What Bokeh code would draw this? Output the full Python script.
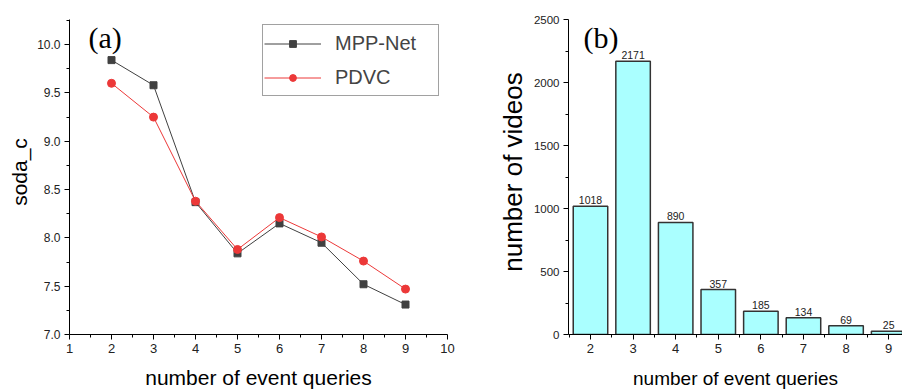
from bokeh.plotting import figure
from bokeh.layouts import row
from bokeh.models import (Range1d, FixedTicker, PrintfTickFormatter, Label, ColumnDataSource)
from bokeh.core.properties import value
from bokeh.embed import file_html
from bokeh.resources import INLINE

# ---- data ----
queries = [2, 3, 4, 5, 6, 7, 8, 9]
mpp_net = [9.84, 9.58, 8.37, 7.84, 8.15, 7.95, 7.52, 7.31]
pdvc = [9.60, 9.25, 8.38, 7.88, 8.21, 8.01, 7.76, 7.47]
video_counts = [1018, 2171, 890, 357, 185, 134, 69, 25]
left_xticks = [1, 2, 3, 4, 5, 6, 7, 8, 9, 10]
left_yticks = [7.0, 7.5, 8.0, 8.5, 9.0, 9.5, 10.0]
right_yticks = [0, 500, 1000, 1500, 2000, 2500]

FONT = "Liberation Sans"
SERIF = "Liberation Serif"
GREY = "#404040"
RED = "#ec3838"


def style_axes(p, xsize, ysize):
    for ax in (p.xaxis[0], p.yaxis[0]):
        ax.axis_line_color = "black"
        ax.axis_line_width = 1
        ax.major_tick_in = 0
        ax.major_tick_out = 5
        ax.minor_tick_in = 0
        ax.minor_tick_out = 3
        ax.major_tick_line_color = "black"
        ax.minor_tick_line_color = "black"
        ax.major_label_text_font = FONT
        ax.major_label_text_color = "#222222"
        ax.axis_label_text_font = FONT
        ax.axis_label_text_font_style = "normal"
        ax.axis_label_text_color = "black"
    p.xaxis[0].axis_label_text_font_size = xsize
    p.yaxis[0].axis_label_text_font_size = ysize
    p.xgrid.visible = False
    p.ygrid.visible = False
    p.outline_line_color = None


# ---- left panel ----
p1 = figure(width=460, height=391, output_backend="svg", toolbar_location=None,
            x_range=Range1d(1, 10), y_range=Range1d(7.0, 10.364),
            min_border_left=69, min_border_right=13, min_border_top=9, min_border_bottom=57)
p1.line(queries, mpp_net, line_color=GREY, line_width=1, legend_label="MPP-Net")
p1.scatter(queries, mpp_net, marker="square", size=7, fill_color=GREY, line_color=GREY,
           legend_label="MPP-Net")
p1.line(queries, pdvc, line_color=RED, line_width=1, legend_label="PDVC")
p1.scatter(queries, pdvc, marker="circle", size=8, fill_color=RED, line_color=RED,
           legend_label="PDVC")
p1.xaxis.ticker = FixedTicker(ticks=left_xticks, minor_ticks=[t + 0.5 for t in left_xticks[:-1]])
p1.yaxis.ticker = FixedTicker(ticks=left_yticks, minor_ticks=[t + 0.25 for t in left_yticks])
p1.yaxis.bounds = (7.0, 10.26)
p1.yaxis.formatter = PrintfTickFormatter(format="%.1f")
p1.xaxis.axis_label = "number of event queries"
p1.yaxis.axis_label = "soda_c"
style_axes(p1, "21px", "21px")
p1.xaxis.major_label_text_font_size = "13px"
p1.yaxis.major_label_text_font_size = "12px"
p1.xaxis.major_label_standoff = 4
p1.yaxis.major_label_standoff = 4
p1.xaxis.axis_label_standoff = 10
p1.yaxis.axis_label_standoff = 3

lg = p1.legend[0]
lg.location = (193, 238)
lg.border_line_color = "#444444"
lg.border_line_width = 1.5
lg.background_fill_alpha = 1
lg.label_text_font = FONT
lg.label_text_font_size = "20px"
lg.glyph_width = 57
lg.glyph_height = 17
lg.label_height = 34
lg.label_width = 102
lg.label_standoff = 14
lg.padding = 1
lg.spacing = 0
lg.margin = 0

p1.add_layout(Label(x=1.452, y=10.075, text="(a)", text_font=SERIF, text_baseline="alphabetic",
                    text_font_size="30px", text_color="black"))

# ---- right panel ----
p2 = figure(width=442, height=391, output_backend="svg", toolbar_location=None,
            x_range=Range1d(1.484, 9.325), y_range=Range1d(0, 2582),
            min_border_left=108, min_border_right=0, min_border_top=9, min_border_bottom=57)
src = ColumnDataSource(dict(x=queries, top=video_counts, lab=[str(v) for v in video_counts]))
p2.vbar(x="x", top="top", bottom=0, width=0.81, source=src,
        fill_color="#aaffff", line_color="#333333", line_width=1.5)
p2.text(x="x", y="top", text="lab", source=src, text_align="center", text_baseline="bottom",
        y_offset=-2, text_font=value(FONT), text_font_size="10.5px", text_color="#222222")
p2.xaxis.ticker = FixedTicker(ticks=queries, minor_ticks=[q - 0.5 for q in queries] + [9.5])
p2.yaxis.ticker = FixedTicker(ticks=right_yticks, minor_ticks=[t + 250 for t in right_yticks[:-1]])
p2.yaxis.bounds = (0, 2500)
p2.xaxis.axis_label = "number of event queries"
p2.yaxis.axis_label = "number of videos"
style_axes(p2, "19px", "26px")
p2.xaxis.major_label_text_font_size = "13px"
p2.yaxis.major_label_text_font_size = "11.5px"
p2.xaxis.major_label_standoff = 4
p2.yaxis.major_label_standoff = 4
p2.xaxis.axis_label_standoff = 12
p2.yaxis.axis_label_standoff = 3
p2.add_layout(Label(x=1.836, y=2362, text="(b)", text_font=SERIF, text_baseline="alphabetic",
                    text_font_size="30px", text_color="black"))

layout = row(p1, p2)
open("out.html", "w").write(file_html(layout, INLINE))
